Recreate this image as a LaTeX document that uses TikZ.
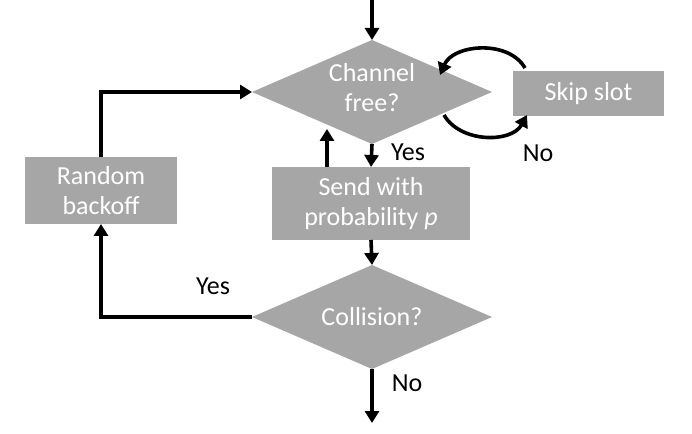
\documentclass[tikz,border=0pt]{standalone}
\usepackage{fontspec}
\setmainfont{Carlito}
\usetikzlibrary{shapes.geometric,arrows.meta}
\definecolor{boxgray}{HTML}{A6A6A6}
\tikzset{
  dia/.style={diamond,fill=boxgray,minimum width=240pt,minimum height=104pt,inner sep=0pt,outer sep=0pt},
  box/.style={rectangle,fill=boxgray,inner sep=0pt,outer sep=0pt},
  wtxt/.style={text=white,align=center,font=\fontsize{26}{30}\selectfont},
  lbl/.style={text=black,font=\fontsize{26}{30}\selectfont},
  arr/.style={line width=3.6pt,-{Triangle[length=12pt,width=14pt]}}
}
\begin{document}
\begin{tikzpicture}[x=1pt,y=1pt]
\useasboundingbox (0,0) rectangle (692,433);
\node[dia] (ch) at (372,341) {};
\node[wtxt] (chtxt) at (372,345) {Channel\\free?};
\node[box,minimum width=151pt,minimum height=45pt] (skip) at (588.5,339.5) {};
\node[wtxt] (skiptxt) at (skip) {Skip slot};
\node[box,minimum width=198pt,minimum height=73pt] (send) at (371,229.5) {};
\node[wtxt] (sendtxt) at (send) {Send with\\probability \textit{p}};
\node[dia] (coll) at (372,116) {};
\node[wtxt] (colltxt) at (coll) {Collision?};
\node[box,minimum width=152pt,minimum height=67pt] (back) at (101,242.5) {};
\node[wtxt] (backtxt) at (back) {Random\\backoff};
\coordinate (top) at (372,433);
\coordinate (bot) at (372,10);
\node[lbl] (yes1) at (408,281) {Yes};
\node[lbl] (no1) at (538,280) {No};
\node[lbl] (yes2) at (213,147) {Yes};
\node[lbl] (no2) at (407,50) {No};
\draw[arr] (top) -- (ch.north);
\draw[arr] (ch.south) -- (send.north);
\draw[arr] ([xshift=-44pt]send.north) -- ++(0,38);
\draw[arr] (send.south) -- (coll.north);
\draw[arr] (coll.south) -- (bot);
\draw[arr] (coll.west) -| (back.south);
\draw[arr] (back.north) |- (ch.west);
\draw[arr] ([shift={(12,3)}]skip.north west) to[out=120,in=67] ([shift={(68,17)}]ch.center);
\draw[arr] ([shift={(72,-23)}]ch.center) to[out=300,in=241] ([shift={(14,1)}]skip.south west);
\end{tikzpicture}
\end{document}
